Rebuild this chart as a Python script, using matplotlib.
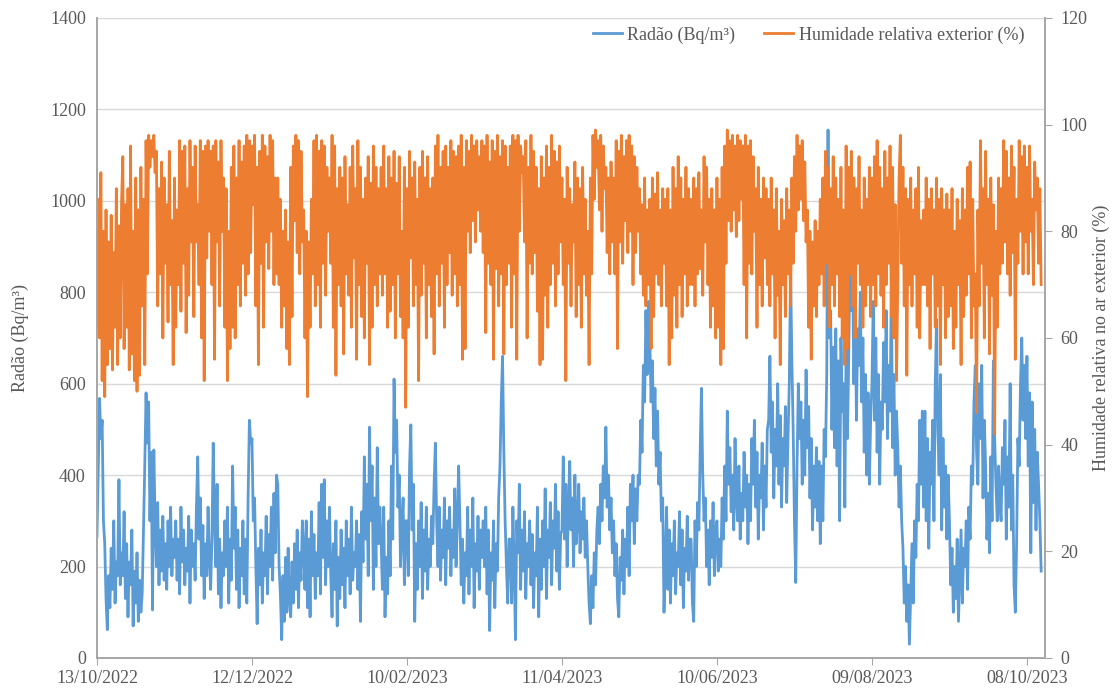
#!/usr/bin/env python3
import pandas as pd
import matplotlib
matplotlib.use("Agg")
import matplotlib.pyplot as plt

# Radon concentration (Bq/m3), one value every 12 h from 13/10/2022
RADON = [
    265, 420, 568, 480, 520, 300, 250, 130, 62, 180, 110, 240, 150, 300, 120, 210, 180, 390, 160, 230,
    180, 320, 130, 250, 90, 210, 160, 280, 70, 190, 120, 230, 80, 170, 100, 140, 280, 420, 580, 470,
    560, 300, 450, 105, 455, 300, 200, 340, 160, 280, 190, 310, 170, 250, 150, 300, 200, 330, 180, 260,
    220, 300, 170, 260, 140, 330, 210, 280, 160, 240, 190, 310, 120, 280, 200, 250, 170, 330, 440, 260,
    350, 180, 290, 130, 250, 180, 330, 220, 150, 260, 470, 300, 200, 380, 140, 260, 110, 230, 180, 300,
    200, 330, 120, 260, 170, 420, 240, 330, 150, 280, 110, 240, 180, 300, 140, 260, 120, 350, 520, 470,
    480, 300, 350, 200, 75, 240, 160, 280, 120, 230, 180, 310, 140, 270, 200, 330, 170, 360, 230, 400,
    380, 200, 140, 40, 180, 80, 220, 100, 240, 130, 90, 210, 120, 250, 150, 280, 110, 230, 170, 300,
    240, 150, 300, 110, 260, 90, 320, 180, 270, 130, 230, 180, 340, 140, 380, 220, 390, 160, 300, 200,
    330, 180, 90, 250, 150, 300, 70, 220, 130, 280, 160, 240, 110, 300, 180, 260, 140, 330, 170, 230,
    200, 300, 150, 270, 80, 320, 210, 440, 260, 380, 180, 505, 300, 420, 150, 350, 200, 460, 250, 330,
    250, 150, 330, 90, 220, 140, 300, 180, 420, 260, 610, 450, 520, 330, 400, 200, 280, 350, 160, 300,
    300, 180, 420, 510, 280, 380, 80, 250, 150, 300, 200, 340, 130, 280, 190, 330, 150, 260, 200, 310,
    250, 380, 470, 300, 200, 330, 170, 280, 220, 350, 160, 300, 240, 330, 180, 280, 220, 370, 200, 300,
    420, 300, 160, 260, 120, 230, 180, 330, 140, 280, 200, 350, 110, 250, 190, 310, 150, 280, 220, 300,
    200, 330, 140, 280, 60, 230, 170, 300, 110, 250, 190, 350, 420, 560, 660, 450, 300, 200, 120, 260,
    260, 120, 330, 200, 40, 300, 230, 380, 150, 280, 190, 320, 130, 250, 200, 300, 160, 270, 110, 230,
    180, 330, 90, 260, 150, 300, 200, 370, 130, 280, 220, 340, 160, 300, 240, 380, 190, 320, 150, 270,
    280, 440, 260, 380, 200, 330, 430, 280, 350, 200, 400, 250, 300, 380, 230, 320, 260, 350, 220, 300,
    200, 120, 75, 180, 110, 230, 160, 280, 330, 250, 380, 300, 420, 350, 505, 330, 400, 280, 350, 230,
    300, 180, 250, 130, 90, 220, 170, 280, 140, 260, 200, 330, 180, 380, 300, 400, 250, 370, 300, 400,
    380, 520, 450, 640, 560, 760, 620, 780, 700, 560, 650, 480, 590, 420, 540, 380, 450, 300, 350, 100,
    200, 330, 150, 280, 120, 250, 180, 300, 140, 230, 200, 320, 160, 280, 110, 240, 190, 310, 170, 260,
    260, 120, 80, 300, 200, 340, 280, 450, 590, 400, 300, 350, 200, 280, 160, 300, 220, 340, 180, 280,
    300, 190, 260, 200, 350, 260, 420, 300, 540, 380, 460, 320, 400, 280, 480, 350, 300, 420, 260, 360,
    300, 450, 330, 400, 250, 380, 300, 480, 380, 520, 330, 450, 260, 400, 350, 470, 280, 420, 330, 500,
    520, 660, 450, 560, 350, 500, 420, 600, 380, 530, 330, 480, 420, 550, 340, 480, 600, 850, 650, 500,
    300, 165, 420, 600, 480, 560, 380, 520, 400, 630, 460, 550, 350, 480, 280, 420, 330, 460, 300, 430,
    250, 420, 300, 500, 440, 620, 1155, 700, 760, 500, 680, 460, 720, 420, 650, 300, 700, 540, 600, 330,
    700, 480, 650, 900, 760, 850, 600, 780, 520, 720, 640, 800, 560, 700, 450, 620, 400, 580, 380, 520,
    600, 780, 520, 700, 450, 620, 380, 560, 500, 690, 560, 760, 480, 640, 540, 800, 460, 620, 400, 540,
    460, 330, 420, 300, 240, 120, 200, 80, 160, 30, 140, 250, 120, 300, 220, 380, 300, 520, 380, 540,
    330, 540, 300, 480, 240, 450, 380, 520, 300, 600, 740, 500, 400, 620, 280, 480, 330, 420, 260, 400,
    300, 160, 240, 100, 200, 130, 260, 80, 180, 280, 120, 240, 200, 300, 150, 330, 260, 420, 380, 560,
    640, 450, 380, 600, 480, 640, 350, 520, 420, 260, 360, 230, 440, 300, 650, 480, 380, 300, 420, 340,
    300, 460, 380, 520, 260, 440, 330, 600, 280, 400, 160, 100, 250, 480, 420, 600, 700, 520, 640, 480,
    660, 420, 580, 230, 560, 340, 500, 280, 450, 380, 300, 190,
]

# Outdoor relative humidity (%), same 12 h steps
HUMIDADE = [
    62, 86, 60, 91, 52, 80, 49, 84, 55, 78, 58, 83, 54, 76, 62, 88, 55, 81, 60, 85,
    94, 58, 85, 62, 88, 54, 96, 57, 80, 52, 90, 50, 84, 53, 92, 66, 86, 55, 97, 72,
    98, 92, 97, 94, 98, 91, 95, 66, 88, 72, 93, 60, 90, 74, 85, 63, 95, 70, 82, 55,
    90, 62, 84, 70, 97, 65, 95, 74, 96, 61, 88, 68, 97, 78, 92, 64, 96, 78, 85, 70,
    97, 60, 95, 52, 96, 75, 97, 80, 95, 70, 96, 56, 97, 78, 93, 66, 97, 80, 90, 62,
    88, 52, 80, 58, 92, 62, 96, 60, 90, 70, 97, 66, 93, 74, 96, 68, 98, 72, 97, 76,
    96, 85, 98, 66, 92, 55, 95, 74, 98, 62, 96, 78, 94, 73, 98, 80, 97, 70, 90, 72,
    90, 70, 86, 62, 80, 66, 84, 58, 78, 55, 92, 64, 96, 82, 98, 76, 97, 72, 95, 78,
    84, 60, 80, 49, 78, 62, 86, 72, 97, 66, 98, 70, 95, 62, 97, 74, 96, 68, 92, 80,
    90, 74, 98, 62, 96, 53, 88, 70, 92, 66, 90, 57, 94, 72, 85, 68, 92, 62, 96, 75,
    88, 56, 97, 70, 92, 64, 86, 60, 90, 74, 94, 55, 89, 62, 96, 70, 92, 66, 88, 72,
    92, 68, 96, 72, 88, 62, 94, 65, 90, 70, 95, 60, 89, 72, 94, 64, 80, 60, 92, 47,
    88, 62, 95, 75, 90, 66, 93, 70, 86, 52, 92, 68, 95, 74, 90, 60, 94, 70, 88, 64,
    90, 57, 96, 72, 98, 66, 92, 74, 95, 62, 96, 70, 92, 76, 97, 68, 95, 72, 94, 66,
    96, 70, 98, 56, 92, 58, 97, 80, 95, 76, 98, 82, 96, 78, 97, 84, 94, 80, 97, 76,
    96, 61, 98, 74, 93, 70, 97, 56, 95, 73, 98, 66, 94, 72, 97, 57, 96, 70, 92, 74,
    96, 62, 98, 72, 97, 56, 98, 80, 96, 91, 94, 78, 97, 60, 92, 74, 98, 72, 95, 76,
    92, 65, 88, 55, 94, 56, 90, 68, 96, 62, 92, 70, 98, 74, 95, 66, 93, 72, 96, 78,
    90, 70, 86, 52, 92, 74, 88, 66, 85, 78, 93, 64, 90, 70, 88, 62, 92, 72, 86, 68,
    80, 55, 90, 72, 98, 86, 99, 92, 97, 84, 98, 80, 96, 88, 92, 76, 90, 72, 93, 78,
    90, 72, 97, 58, 95, 78, 98, 74, 94, 82, 97, 76, 98, 80, 96, 70, 94, 76, 92, 80,
    88, 72, 85, 68, 90, 66, 84, 70, 86, 58, 90, 64, 87, 72, 91, 70, 84, 66, 88, 74,
    86, 66, 88, 55, 84, 60, 92, 68, 88, 62, 94, 70, 90, 64, 86, 72, 92, 66, 88, 70,
    86, 70, 90, 66, 88, 72, 91, 73, 84, 68, 94, 78, 92, 70, 86, 62, 88, 66, 84, 60,
    90, 62, 86, 55, 92, 58, 96, 74, 99, 82, 97, 80, 98, 84, 96, 79, 98, 82, 97, 86,
    96, 70, 98, 60, 96, 74, 97, 72, 94, 80, 88, 62, 92, 70, 86, 66, 90, 75, 88, 70,
    86, 66, 90, 72, 84, 60, 88, 68, 80, 55, 86, 70, 82, 64, 88, 72, 84, 66, 90, 74,
    94, 80, 98, 84, 96, 86, 97, 82, 93, 78, 84, 62, 80, 56, 78, 66, 82, 64, 80, 70,
    86, 72, 90, 66, 95, 74, 92, 62, 88, 70, 94, 66, 90, 72, 86, 64, 92, 60, 84, 55,
    96, 58, 92, 72, 95, 66, 90, 60, 88, 74, 94, 70, 84, 62, 90, 66, 86, 70, 92, 64,
    90, 70, 94, 66, 97, 72, 92, 68, 88, 62, 95, 70, 90, 74, 96, 64, 92, 60, 85, 52,
    70, 90, 98, 74, 92, 66, 88, 53, 86, 70, 90, 66, 84, 72, 88, 62, 92, 60, 82, 70,
    84, 70, 90, 66, 86, 58, 88, 72, 84, 62, 90, 66, 86, 55, 88, 70, 84, 60, 87, 64,
    84, 66, 88, 58, 80, 62, 86, 70, 82, 55, 88, 64, 84, 68, 92, 72, 93, 60, 86, 66,
    72, 46, 84, 66, 97, 74, 88, 60, 95, 70, 86, 57, 90, 68, 85, 42, 80, 62, 90, 72,
    88, 74, 97, 78, 95, 72, 90, 68, 96, 76, 92, 56, 86, 74, 97, 80, 94, 72, 96, 78,
    92, 72, 96, 80, 86, 70, 93, 84, 90, 74, 88, 70,
]

START = "2022-10-13"
TICK_LABELS = ["13/10/2022", "12/12/2022", "10/02/2023", "11/04/2023",
               "10/06/2023", "09/08/2023", "08/10/2023"]

BLUE = "#5B9BD5"
ORANGE = "#ED7D31"
GREY = "#595959"


def main():
    plt.rcParams["font.family"] = ["Liberation Serif", "DejaVu Serif"]

    t_rn = pd.date_range(START, periods=len(RADON), freq="12h")
    t_rh = pd.date_range(START, periods=len(HUMIDADE), freq="12h")

    fig = plt.figure(figsize=(11.16, 6.91), dpi=100)
    ax = fig.add_axes([0.0869, 0.0478, 0.8495, 0.9262])
    ax2 = ax.twinx()

    ax.plot(t_rn, RADON, color=BLUE, lw=2.0, label="Radão (Bq/m³)")
    ax2.plot(t_rh, HUMIDADE, color=ORANGE, lw=2.0, label="Humidade relativa exterior (%)")

    ax.set_ylim(0, 1400)
    ax.set_yticks(range(0, 1401, 200))
    ax2.set_ylim(0, 120)
    ax2.set_yticks(range(0, 121, 20))

    start = pd.Timestamp(START)
    ax.set_xlim(start, start + pd.Timedelta(days=367))
    ticks = pd.to_datetime(TICK_LABELS, format="%d/%m/%Y")
    ax.set_xticks(ticks)
    ax.set_xticklabels(TICK_LABELS)

    ax.grid(axis="y", color="#D9D9D9", lw=1)
    ax.set_axisbelow(True)

    for a in (ax, ax2):
        a.spines["top"].set_visible(False)
        for s in ("left", "right", "bottom"):
            a.spines[s].set_color("#A6A6A6")
            a.spines[s].set_linewidth(1.2)
        a.tick_params(colors=GREY, labelsize=13)
    ax.tick_params(axis="y", length=0, pad=8)
    ax.tick_params(axis="x", length=5, color="#A6A6A6", pad=4)
    ax2.tick_params(axis="y", length=5, color="#A6A6A6", pad=6)

    ax.set_ylabel("Radão (Bq/m³)", color=GREY, fontsize=13, labelpad=15)
    ax2.set_ylabel("Humidade relativa no ar exterior (%)", color=GREY,
                   fontsize=13, rotation=90, labelpad=4)

    h1, l1 = ax.get_legend_handles_labels()
    h2, l2 = ax2.get_legend_handles_labels()
    leg = ax2.legend(h1 + h2, l1 + l2, loc="upper right", ncol=2, frameon=False,
                     fontsize=13, handlelength=1.6, handletextpad=0.3,
                     columnspacing=1.6, bbox_to_anchor=(0.995, 1.012))
    for txt in leg.get_texts():
        txt.set_color(GREY)

    fig.savefig("out.png", dpi=100)
    plt.close(fig)


if __name__ == "__main__":
    main()
